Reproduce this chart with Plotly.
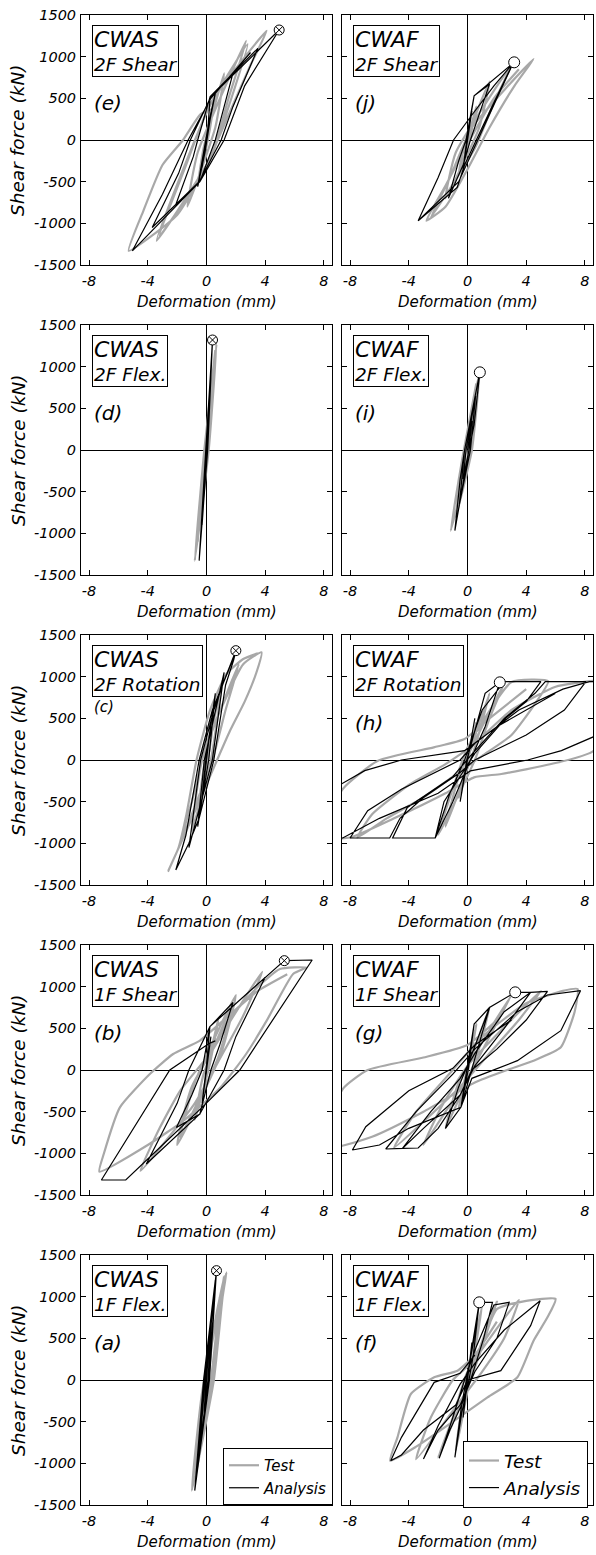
import plotly.graph_objects as go

# ---- data (deformation in mm, shear force in kN) ----
# (e) CWAS 2F Shear
e_test_x = [0, 0.6, 0.2, -0.6, -0.2, 1.2, 0.6, -1.3, -0.6, 2.7, 1.5, 0.3, -3.4, -1.7, 0.2, 2.8, 1.6, 0.2, -3.2, -1.5, 0.3, 4.1, 3.0, 1.5, 0.0, -2.0, -5.3, -4.3, -3.0, -1.6, -0.4, 0.5]
e_test_y = [0, 550, 100, -550, -100, 800, 150, -800, -150, 1190, 500, -200, -1210, -400, 400, 1150, 450, -250, -1150, -350, 450, 1310, 900, 300, -300, -900, -1330, -850, -300, 0, 310, 380]
e_ana_x = [0, 0.3, 0.05, -0.3, -0.05, 0.3, 0.6, 0.25, -0.1, -0.6, -0.3, 0.1, 0.25, 1.8, 0.9, 0.6, -0.45, -2.1, -0.9, -0.6, 0.25, 3.5, 1.8, 1.0, -0.5, -3.7, -1.9, -1.1, 0.3, 4.95, 2.6, 1.2, -0.45, -5.05, -3.0, -1.25, 0.3, 3.0]
e_ana_y = [0, 330, 0, -330, 0, 330, 560, 250, -150, -560, -250, 150, 520, 800, 200, 0, -500, -780, -200, 0, 520, 1100, 400, 0, -500, -1050, -400, 0, 520, 1320, 650, 0, -500, -1330, -650, 0, 500, 1050]

# (j) CWAF 2F Shear
j_test_x = [0, 0.6, 0.2, -0.6, -0.2, 1.5, 0.8, -1.5, -0.8, 3.0, 1.8, 0.5, -2.5, -1.2, 0.3, 4.5, 3.2, 1.5, 0.0, -1.5, -2.8, -1.5, 0.0, 1.8, 3.5]
j_test_y = [0, 400, 50, -400, -50, 700, 150, -700, -150, 900, 450, -100, -930, -450, 150, 972, 650, 150, -350, -800, -968, -550, -50, 500, 850]
j_ana_x = [0, 0.3, 0.05, -0.3, -0.05, 0.45, 1.5, 0.7, 0.2, -0.3, -1.3, -0.6, -0.1, 0.45, 3.1, 1.8, 0.6, -0.2, -0.7, -3.36, -2.0, -0.95, 0.3, 1.8, 3.1, 1.6, 0.4, -0.6, -3.36]
j_ana_y = [0, 350, 0, -350, 0, 530, 670, 250, 0, -300, -700, -250, 0, 530, 920, 450, 0, -300, -570, -968, -450, 0, 300, 650, 920, 350, -100, -500, -968]

# (d) CWAS 2F Flex.
d_test_x = [0, 0.3, 0.05, -0.3, -0.05, 0.55, 0.1, -0.6, -0.1, 0.68, 0.15, -0.8, -0.15, 0.6]
d_test_y = [0, 600, 0, -600, 0, 1100, 0, -1100, 0, 1270, 0, -1330, 0, 1200]
d_ana_x = [0, 0.15, 0.02, -0.15, -0.02, 0.25, 0.05, -0.3, -0.05, 0.41, 0.08, -0.5, -0.05, 0.41]
d_ana_y = [0, 500, 0, -500, 0, 850, 0, -900, 0, 1320, 0, -1328, 0, 1320]

# (i) CWAF 2F Flex.
i_test_x = [0, 0.4, 0.1, -0.4, -0.1, 0.8, 0.3, -0.8, -0.2, 0.75, 0.2, -1.14, -0.3, 0.6]
i_test_y = [0, 450, 0, -450, 0, 900, 0, -800, 0, 880, 0, -968, -50, 800]
i_ana_x = [0, 0.3, 0.1, -0.3, -0.1, 0.55, 0.2, -0.55, -0.2, 0.84, 0.45, 0.1, -0.4, -0.86, -0.5, -0.2, 0.3, 0.84]
i_ana_y = [0, 350, 0, -350, 0, 650, 0, -650, 0, 932, 300, 0, -500, -968, -350, 0, 450, 932]

# (c) CWAS 2F Rotation
c_test_x = [0, 0.5, 0.1, -0.5, -0.1, 1.0, 0.3, -1.0, -0.3, 2.2, 1.3, 0.4, -1.8, -1.0, 0.0, 2.5, 3.75, 3.4, 2.6, 1.6, 0.6, -0.5, -1.5, -2.6, -1.9, -1.36, -0.68, 0.23, 1.36, 2.5, 3.5]
c_test_y = [0, 500, 0, -500, 0, 850, 0, -850, 0, 1150, 600, 0, -1000, -500, 200, 1150, 1292, 1050, 700, 350, -50, -500, -900, -1328, -1050, -648, 0, 592, 1032, 1212, 1280]
c_ana_x = [0, 0.3, 0.05, -0.3, -0.05, 0.6, 0.15, -0.6, -0.15, 1.2, 0.4, -1.2, -0.4, 0.5, 1.2, 2.0, 1.85, 1.3, 0.5, -0.5, -1.2, -2.09, -1.4, -0.5, 0.4, 1.2, 1.9]
c_ana_y = [0, 450, 0, -450, 0, 800, 0, -800, 0, 1050, 0, -1050, 0, 600, 950, 1312, 1200, 900, 0, -700, -1000, -1320, -900, 0, 600, 950, 1250]

# (h) CWAF 2F Rotation
h_test_x = [0, 0.6, 0.1, -0.6, -0.1, 1.5, 0.5, -1.5, -0.5, 2.5, 1.5, 0.5, -2.0, -1.2, 0.0, 3.0, 5.5, 4.5, 3.0, 1.0, -1.0, -3.0, -5.5, -7.5, -6.5, -4.0, -1.5, 0.5, 3.0, 6.0, 8.6, 10.0, 8.6, 5.7, 2.3, 0.45, -1.5, -5.0, -8.0, -10.0, -8.5, -6.1, -2.3, -0.2, 1.5, 4.0]
h_test_y = [0, 450, 50, -450, -50, 800, 150, -800, -150, 920, 500, 0, -900, -450, 150, 935, 945, 650, 300, 50, -200, -450, -700, -930, -650, -300, -50, 200, 600, 880, 950, 950, 112, -48, -168, -208, -400, -700, -930, -930, -348, -8, 152, 252, 500, 850]
h_ana_x = [0, 0.5, 0.05, -0.5, -0.05, 1.2, 2.2, 1.2, 0.2, -1.0, -2.2, -1.2, -0.2, 1.0, 2.5, 5.0, 4.0, 2.6, 0.5, -0.5, -1.6, -2.2, -5.1, -4.1, -1.0, 0.2, 2.5, 4.6, 5.3, 8.07, 6.6, 4.0, 0.5, -0.5, -3.0, -4.6, -5.3, -8.0, -6.8, -4.5, -0.5, 0.5, 3.5, 6.5, 8.3, 11.0, 8.6, 6.4, 4.1, 0.2, -2.0, -6.0, -8.5, -11.0, -8.6, -7.0, -4.5, -0.2, 2.0, 6.0]
h_ana_y = [0, 500, 0, -500, 0, 800, 932, 400, 0, -500, -936, -400, 0, 600, 940, 940, 700, 500, 80, -200, -500, -936, -936, -570, -200, 50, 500, 800, 940, 940, 600, 300, 0, -150, -450, -700, -936, -936, -608, -350, 0, 200, 600, 850, 940, 940, 280, 112, 0, -130, -400, -700, -936, -936, -288, -128, 0, 112, 400, 800]

# (b) CWAS 1F Shear
b_test_x = [0, 0.8, 0.2, -0.8, -0.2, 1.8, 0.8, -1.8, -0.8, 2.0, 1.0, -2.0, -1.0, 3.8, 2.5, 0.8, -0.8, -4.5, -3.2, -1.8, 0.0, 1.5, 3.5, 5.0, 6.8, 5.9, 4.1, 2.7, 1.0, -1.5, -4.0, -7.3, -7.0, -5.9, -3.86, -2.27, -0.45, 1.5, 3.5, 5.5]
b_test_y = [0, 600, 50, -600, -50, 800, 150, -800, -150, 900, 200, -900, -200, 1180, 650, 100, -400, -1210, -700, -250, 150, 600, 1000, 1212, 1230, 1152, 592, 192, -200, -600, -900, -1220, -1008, -448, -48, 192, 352, 650, 950, 1150]
b_ana_x = [0, 0.3, 0.0, -0.3, 0.0, 0.23, 1.8, 0.9, 0.3, -0.45, -2.05, -1.0, -0.3, 0.23, 4.0, 2.0, 1.2, -0.45, -4.1, -2.0, -1.2, 0.23, 5.3, 7.2, 2.27, -0.3, -3.0, -5.5, -7.16, -2.5, 0.2, 0.6]
b_ana_y = [0, 400, -50, -400, 50, 520, 810, 300, 0, -528, -690, -300, 0, 520, 1112, 400, 0, -528, -1128, -400, 0, 520, 1312, 1320, 0, -448, -900, -1320, -1320, 0, 320, 350]

# (g) CWAF 1F Shear
g_test_x = [0, 0.6, 0.1, -0.6, -0.1, 1.5, 0.6, -1.5, -0.6, 3.0, 1.8, 0.3, -3.0, -1.8, 0.0, 5.0, 3.5, 1.5, -0.5, -5.0, -3.5, -1.0, 1.0, 4.0, 6.5, 7.5, 7.3, 6.36, 4.5, 2.7, 0.5, -3.0, -6.5, -10.0, -8.5, -6.8, -3.0, 0.0, 2.0]
g_test_y = [0, 550, 50, -450, -50, 750, 150, -700, -150, 900, 500, 0, -900, -450, 50, 950, 600, 200, -200, -930, -500, 0, 400, 800, 950, 972, 700, 272, 112, 0, -150, -500, -800, -950, -228, 0, 150, 300, 600]
g_ana_x = [0, 0.45, 0.05, -0.45, -0.05, 0.45, 1.5, 0.6, -0.45, -1.5, -0.6, 0.1, 1.5, 3.25, 4.3, 2.5, 0.5, -0.5, -2.0, -3.36, -4.43, -2.5, -0.5, 0.5, 2.5, 4.3, 5.45, 4.0, 2.0, 0.3, -0.5, -3.0, -4.43, -5.57, -3.5, -1.0, 0.5, 3.4, 5.45, 7.7, 6.36, 3.4, 0.3, -0.45, -4.0, -6.0, -7.84, -6.93, -4.0, -1.0, 0.5, 3.0]
g_ana_y = [0, 552, 0, -448, 0, 552, 750, 200, -448, -700, -200, 100, 750, 932, 932, 500, 50, -300, -700, -936, -940, -500, -100, 200, 700, 932, 944, 600, 250, 0, -300, -700, -940, -948, -500, -50, 250, 700, 900, 952, 472, 112, -100, -448, -700, -900, -960, -680, -250, 20, 300, 600]

# (a) CWAS 1F Flex.
a_test_x = [0, 0.4, 0.1, -0.4, -0.1, 0.9, 0.3, -0.7, -0.15, 1.2, 0.9, 0.4, -0.8, -0.2, 1.36, 1.1, 0.5, -1.0, -0.3, 1.0]
a_test_y = [0, 500, 0, -500, 0, 1000, 0, -1000, 0, 1250, 900, 0, -1200, -100, 1292, 1000, 0, -1328, -150, 1000]
a_ana_x = [0, 0.2, 0.03, -0.2, -0.03, 0.4, 0.1, -0.5, -0.1, 0.6, 0.15, -0.7, -0.15, 0.68, 0.2, -0.8, -0.2, 0.6]
a_ana_y = [0, 500, 0, -500, 0, 900, 0, -900, 0, 1150, 0, -1200, 0, 1312, 0, -1328, 0, 1200]

# (f) CWAF 1F Flex.
f_test_x = [0, 0.4, 0.1, -0.4, -0.1, 1.0, 0.3, -0.8, -0.2, 2.0, 1.0, 0.2, -2.0, -1.0, 0.0, 3.5, 2.5, 1.0, -0.5, -3.5, -2.5, -1.0, 0.5, 2.0, 4.0, 6.0, 5.45, 4.5, 3.4, 1.36, -1.0, -3.5, -5.27, -4.77, -3.86, -2.27, -0.68, 0.5, 2.0]
f_test_y = [0, 450, 50, -450, -50, 900, 150, -850, -150, 940, 400, 0, -930, -450, 100, 960, 500, 100, -250, -950, -450, 0, 250, 850, 950, 972, 752, 472, 32, -208, -500, -800, -968, -688, -168, 32, 112, 300, 700]
f_ana_x = [0, 0.3, 0.05, -0.3, -0.05, 0.8, 0.4, 0.1, -0.4, -0.86, -0.4, -0.1, 0.4, 0.8, 1.7, 1.1, 0.3, -0.4, -1.2, -1.93, -1.0, -0.2, 0.6, 1.8, 2.84, 2.0, 0.5, -0.5, -2.0, -3.0, -2.0, -0.5, 0.5, 2.5, 4.95, 4.3, 2.27, 0.0, -0.8, -3.0, -4.5, -5.23, -4.5, -2.27, -0.5, 0.5]
f_ana_y = [0, 450, 0, -450, 0, 932, 300, 0, -400, -928, -300, 0, 450, 932, 932, 500, 50, -300, -600, -940, -450, 0, 400, 900, 932, 500, 100, -300, -600, -948, -550, -50, 200, 600, 952, 652, 112, 0, -300, -600, -900, -968, -688, -28, 80, 300]

# ultimate points marked on the analysis curves (e, j, d, i, c, h, b, g, a, f)
peak_x = [4.95, 3.18, 0.41, 0.84, 2.0, 2.2, 5.3, 3.25, 0.68, 0.8]
peak_y = [1320, 932, 1320, 932, 1312, 932, 1312, 932, 1312, 932]

x_ticks = [-8, -4, 0, 4, 8]
x_tick_text = ["-8", "-4", "0", "4", "8"]
y_ticks = [-1500, -1000, -500, 0, 500, 1000, 1500]
y_tick_text = ["-1500", "-1000", "-500", "0", "500", "1000", "1500"]

panels = [
    ("CWAS", "2F Shear", "(e)", e_test_x, e_test_y, e_ana_x, e_ana_y),
    ("CWAF", "2F Shear", "(j)", j_test_x, j_test_y, j_ana_x, j_ana_y),
    ("CWAS", "2F Flex.", "(d)", d_test_x, d_test_y, d_ana_x, d_ana_y),
    ("CWAF", "2F Flex.", "(i)", i_test_x, i_test_y, i_ana_x, i_ana_y),
    ("CWAS", "2F Rotation", "(c)", c_test_x, c_test_y, c_ana_x, c_ana_y),
    ("CWAF", "2F Rotation", "(h)", h_test_x, h_test_y, h_ana_x, h_ana_y),
    ("CWAS", "1F Shear", "(b)", b_test_x, b_test_y, b_ana_x, b_ana_y),
    ("CWAF", "1F Shear", "(g)", g_test_x, g_test_y, g_ana_x, g_ana_y),
    ("CWAS", "1F Flex.", "(a)", a_test_x, a_test_y, a_ana_x, a_ana_y),
    ("CWAF", "1F Flex.", "(f)", f_test_x, f_test_y, f_ana_x, f_ana_y),
]

W, H = 596, 1555
FONT = "DejaVu Sans, Liberation Sans, sans-serif"
col_left = [81, 342]
col_w = 251
row_top = [15, 325, 635, 945, 1255]
row_h = 250
GREY = "#a8a8a8"

fig = go.Figure()
annotations = []

for k, (spec, part, tag, tx, ty, ax, ay) in enumerate(panels):
    assert len(tx) == len(ty) and len(ax) == len(ay), tag
    n = k + 1
    r, c = k // 2, k % 2
    x0 = col_left[c] / W
    x1 = (col_left[c] + col_w) / W
    y1 = 1 - row_top[r] / H
    y0 = 1 - (row_top[r] + row_h) / H
    xa = "x" if n == 1 else f"x{n}"
    ya = "y" if n == 1 else f"y{n}"

    # legend only in the bottom row
    leg = None
    if tag == "(a)":
        leg = "legend"
    elif tag == "(f)":
        leg = "legend2"

    fig.add_trace(go.Scatter(
        x=tx, y=ty, mode="lines", xaxis=xa, yaxis=ya,
        line=dict(color=GREY, width=2.2, shape="spline", smoothing=0.5),
        name="Test", showlegend=leg is not None, legend=leg or "legend",
    ))
    fig.add_trace(go.Scatter(
        x=ax, y=ay, mode="lines", xaxis=xa, yaxis=ya,
        line=dict(color="black", width=1.2),
        name="Analysis", showlegend=leg is not None, legend=leg or "legend",
    ))
    if spec == "CWAS":
        mk = dict(symbol="circle-x", size=10, color="white", line=dict(color="black", width=1))
    else:
        mk = dict(symbol="circle", size=11, color="white", line=dict(color="black", width=1))
    fig.add_trace(go.Scatter(
        x=[peak_x[k]], y=[peak_y[k]], mode="markers", xaxis=xa, yaxis=ya,
        marker=mk, showlegend=False, hoverinfo="skip",
    ))

    axis_common = dict(
        showline=True, linecolor="black", linewidth=1, mirror="ticks",
        ticks="inside", ticklen=5, tickcolor="black", tickwidth=1,
        showgrid=False, zeroline=True, zerolinecolor="black", zerolinewidth=1,
        automargin=False, ticklabeloverflow="allow",
        tickfont=dict(family=FONT, size=14.5, color="black", style="italic"),
    )
    fig.layout[f"xaxis{'' if n == 1 else n}"] = dict(
        axis_common, domain=[x0, x1], anchor=ya, range=[-8.55, 8.55],
        tickvals=x_ticks, ticktext=x_tick_text, ticklabelstandoff=3,
    )
    fig.layout[f"yaxis{'' if n == 1 else n}"] = dict(
        axis_common, domain=[y0, y1], anchor=xa, range=[-1500, 1500],
        tickvals=y_ticks, ticktext=y_tick_text, showticklabels=(c == 0),
        ticklabelstandoff=1,
    )

    # specimen / component box
    annotations.append(dict(
        xref="paper", yref="paper", x=x0 + 11 / W, y=y1 - 10 / H,
        xanchor="left", yanchor="top", showarrow=False, align="left",
        text=f"<span style='font-size:22px'>{spec}</span><br>{part}",
        font=dict(family=FONT, size=18.5, color="black", style="italic"),
        bordercolor="black", borderwidth=1, borderpad=1, bgcolor="white",
    ))
    # panel tag
    annotations.append(dict(
        xref="paper", yref="paper", x=x0 + 11 / W,
        y=1 - (row_top[r] + (72 if tag == "(c)" else 88)) / H,
        xanchor="left", yanchor="middle", showarrow=False, text=tag,
        font=dict(family=FONT, size=15 if tag == "(c)" else 20, color="black", style="italic"),
    ))
    # x title
    annotations.append(dict(
        xref="paper", yref="paper", x=(x0 + x1) / 2, y=1 - (row_top[r] + row_h + 37) / H,
        xanchor="center", yanchor="middle", showarrow=False, text="Deformation (mm)",
        font=dict(family=FONT, size=15, color="black", style="italic"),
    ))
    if c == 0:
        annotations.append(dict(
            xref="paper", yref="paper", x=18 / W, y=1 - (row_top[r] + row_h / 2) / H,
            xanchor="center", yanchor="middle", showarrow=False, textangle=-90,
            text="Shear force (kN)",
            font=dict(family=FONT, size=18.5, color="black", style="italic"),
        ))

fig.update_layout(
    width=W, height=H,
    margin=dict(l=0, r=0, t=0, b=0, autoexpand=False),
    paper_bgcolor="white", plot_bgcolor="white",
    annotations=annotations,
    legend=dict(
        x=223 / W, y=1 - 1448 / H, xanchor="left", yanchor="top",
        bordercolor="black", borderwidth=1, bgcolor="white",
        font=dict(family=FONT, size=15, color="black", style="italic"),
        tracegroupgap=0, itemwidth=30,
    ),
    legend2=dict(
        x=463 / W, y=1 - 1441 / H, xanchor="left", yanchor="top",
        bordercolor="black", borderwidth=1, bgcolor="white",
        font=dict(family=FONT, size=18.5, color="black", style="italic"),
        tracegroupgap=0, itemwidth=30,
    ),
)

# page body has a default 8px margin; drop it so the figure fills the window
fig.write_html(
    "out.html",
    config={"displayModeBar": False},
    post_script="document.body.style.margin='0';document.body.style.overflow='hidden';",
)
